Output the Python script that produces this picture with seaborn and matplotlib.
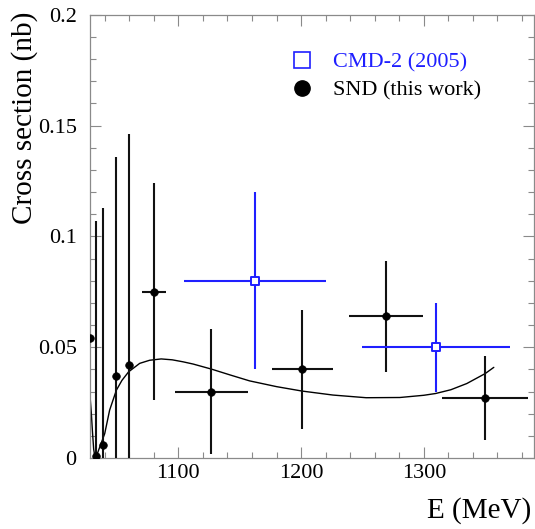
import matplotlib
matplotlib.use("Agg")
import matplotlib.pyplot as plt
from matplotlib.lines import Line2D
from matplotlib.ticker import MultipleLocator, FixedLocator, FixedFormatter
import seaborn as sns
import pandas as pd
import numpy as np

# ---- data ----
snd_E    = [1028.0, 1033.0, 1039.0, 1049.5, 1059.5, 1080.0, 1127.0, 1201.0, 1269.0, 1350.0]
snd_sig  = [0.054, 0.001, 0.006, 0.037, 0.042, 0.075, 0.030, 0.040, 0.064, 0.027]
snd_up   = [0.0, 0.106, 0.107, 0.099, 0.104, 0.049, 0.028, 0.027, 0.025, 0.019]
snd_dn   = [0.0, 0.001, 0.006, 0.037, 0.042, 0.049, 0.028, 0.027, 0.025, 0.019]
snd_xerr = [0.0, 0.0, 0.0, 0.0, 0.0, 10.0, 30.0, 25.0, 30.0, 35.0]

cmd_E    = [1162.5, 1310.0]
cmd_sig  = [0.080, 0.050]
cmd_yerr = [0.040, 0.020]
cmd_xerr = [57.5, 60.0]

curve_E = [1028, 1029, 1030, 1031, 1032, 1033, 1034, 1036, 1040, 1044, 1049.5, 1054,
           1059.5, 1068.5, 1076.6, 1086, 1095, 1103.8, 1112, 1127, 1142, 1158, 1180,
           1200.8, 1226, 1253, 1280.5, 1300, 1309.6, 1322, 1335, 1350, 1357]
curve_sig = [0.028, 0.021, 0.012, 0.004, 0.0005, 0.001, 0.002, 0.005, 0.011, 0.0216,
             0.0306, 0.035, 0.0389, 0.0427, 0.0441, 0.0447, 0.0443, 0.0434, 0.0424,
             0.0401, 0.0375, 0.0348, 0.0322, 0.0302, 0.0284, 0.0272, 0.0273, 0.0283,
             0.0291, 0.0308, 0.0336, 0.0381, 0.0409]

x_ticks = [1100, 1200, 1300]
x_tick_labels = ["1100", "1200", "1300"]
y_ticks = [0, 0.05, 0.1, 0.15, 0.2]
y_tick_labels = ["0", "0.05", "0.1", "0.15", "0.2"]

legend_labels = ["CMD-2 (2005)", "SND (this work)"]

# ---- style ----
sns.set_theme(style="ticks")
plt.rcParams["font.family"] = ["Liberation Serif", "DejaVu Serif"]
plt.rcParams["text.color"] = "black"
plt.rcParams["axes.labelcolor"] = "black"

BLUE = "#1f1fff"
BLACK = "#111111"
GRAY = "#8a8a8a"

fig = plt.figure(figsize=(5.35, 5.29), dpi=100)
ax = fig.add_axes([0.1682, 0.1342, 0.8305, 0.838])

snd = pd.DataFrame({"E": snd_E, "sig": snd_sig})
cmd = pd.DataFrame({"E": cmd_E, "sig": cmd_sig})
crv = pd.DataFrame({"E": curve_E, "sig": curve_sig})

# theory curve
sns.lineplot(data=crv, x="E", y="sig", ax=ax, color="black", lw=1.0, sort=False,
             estimator=None, legend=False, zorder=2)

# error bars
ax.errorbar(snd_E, snd_sig, yerr=[snd_dn, snd_up], xerr=snd_xerr, fmt="none",
            ecolor=BLACK, elinewidth=1.5, capsize=0, zorder=3)
ax.errorbar(cmd_E, cmd_sig, yerr=cmd_yerr, xerr=cmd_xerr, fmt="none",
            ecolor=BLUE, elinewidth=1.5, capsize=0, zorder=3)

# markers
sns.scatterplot(data=snd, x="E", y="sig", ax=ax, color="black", s=30,
                edgecolor="black", linewidth=0.5, zorder=5, legend=False)
sns.scatterplot(data=cmd, x="E", y="sig", ax=ax, marker="s", s=36,
                facecolor="white", edgecolor=BLUE, linewidth=1.4, zorder=5, legend=False)

ax.set_xlim(1028, 1390)
ax.set_ylim(0, 0.2)

ax.xaxis.set_major_locator(FixedLocator(x_ticks))
ax.xaxis.set_major_formatter(FixedFormatter(x_tick_labels))
ax.xaxis.set_minor_locator(MultipleLocator(20))
ax.yaxis.set_major_locator(FixedLocator(y_ticks))
ax.yaxis.set_major_formatter(FixedFormatter(y_tick_labels))
ax.yaxis.set_minor_locator(MultipleLocator(0.01))

for sp in ax.spines.values():
    sp.set_color(GRAY)
    sp.set_linewidth(0.9)
    sp.set_visible(True)

ax.tick_params(which="both", direction="in", top=True, right=True, colors=GRAY,
               labelcolor="black", width=0.8, labelsize=16)
ax.tick_params(which="major", length=8)
ax.tick_params(which="minor", length=4.3)
ax.tick_params(axis="y", which="both", pad=9.6)
ax.tick_params(axis="x", which="both", pad=4)

ax.set_xlabel("E (MeV)", fontsize=21, loc="right", color="black")
ax.xaxis.set_label_coords(0.994, -0.0887)
ax.set_ylabel("Cross section (nb)", fontsize=21, loc="top", color="black")
ax.yaxis.set_label_coords(-0.117, 1.006)

handles = [
    Line2D([], [], linestyle="none", marker="s", markersize=11,
           markerfacecolor="white", markeredgecolor=BLUE, markeredgewidth=1.2),
    Line2D([], [], linestyle="none", marker="o", markersize=11,
           markerfacecolor="black", markeredgecolor="black"),
]
leg = ax.legend(handles, legend_labels, loc="upper left", bbox_to_anchor=(0.4515, 0.916),
                frameon=False, fontsize=16, handlelength=1.0, handletextpad=0.91,
                borderpad=0, borderaxespad=0, labelspacing=0.35)
leg.get_texts()[0].set_color(BLUE)
leg.get_texts()[1].set_color("black")

fig.savefig("out.png", dpi=100)
